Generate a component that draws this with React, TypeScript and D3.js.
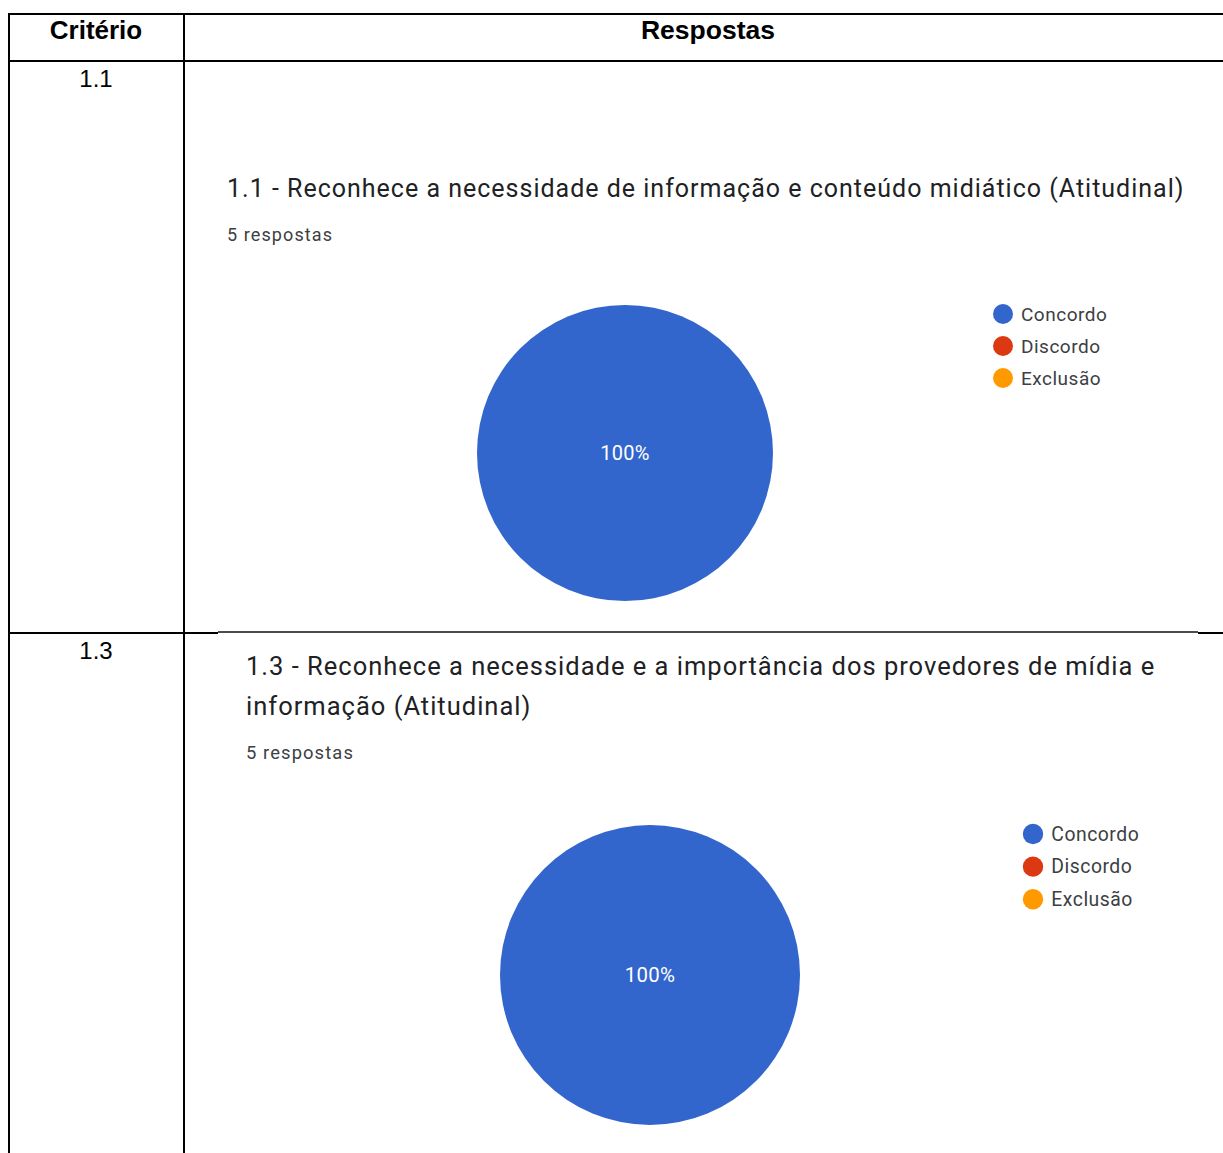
import { useEffect, useRef } from "react";
import * as d3 from "d3";

// legend categories + colors (Google Forms palette)
const categories = ["Concordo", "Discordo", "Exclusão"];
const colors = ["#3366cc", "#dc3912", "#ff9900"];

// answers per criterion (5 respostas each)
const values11 = [5, 0, 0];
const values13 = [5, 0, 0];

const header = ["Critério", "Respostas"];
const criteria = ["1.1", "1.3"];

const title11 = ["1.1 - Reconhece a necessidade de informação e conteúdo midiático (Atitudinal)"];
const title13 = [
    "1.3 - Reconhece a necessidade e a importância dos provedores de mídia e",
    "informação (Atitudinal)",
];
const respostas = "5 respostas";

type Block = {
    title: string[];
    values: number[];
    x: number; // text left
    titleY: number;
    lineGap: number;
    titleSize: number;
    subY: number;
    cx: number;
    cy: number;
    r: number;
    legendX: number;
    legendY: number;
    scale: number;
};

const W = 1223;
const H = 1153;

export default function App() {
    const ref = useRef<SVGSVGElement | null>(null);

    useEffect(() => {
        if (!ref.current) return;
        const svg = d3.select(ref.current);
        svg.selectAll("*").remove();

        svg.append("rect").attr("width", W).attr("height", H).attr("fill", "#fff");

        // table grid
        const g = svg.append("g").attr("stroke", "#000").attr("stroke-width", 2);
        g.append("line").attr("x1", 8).attr("x2", W).attr("y1", 14).attr("y2", 14);
        g.append("line").attr("x1", 8).attr("x2", W).attr("y1", 61).attr("y2", 61);
        g.append("line").attr("x1", 9).attr("x2", 9).attr("y1", 13).attr("y2", H);
        g.append("line").attr("x1", 184).attr("x2", 184).attr("y1", 13).attr("y2", H);
        g.append("line").attr("x1", 8).attr("x2", 218).attr("y1", 633).attr("y2", 633);
        g.append("line").attr("x1", 1198).attr("x2", W).attr("y1", 633).attr("y2", 633);
        g.append("line").attr("x1", 218).attr("x2", 1198).attr("y1", 632).attr("y2", 632).attr("stroke-width", 1.5).attr("stroke", "#111");

        const hdr = svg.append("g").attr("font-family", "Liberation Sans, Arial, sans-serif").attr("text-anchor", "middle");
        hdr.append("text").attr("x", 96).attr("y", 39).attr("font-size", 26).attr("font-weight", "bold").text(header[0]);
        hdr.append("text").attr("x", 708).attr("y", 39).attr("font-size", 26.5).attr("font-weight", "bold").text(header[1]);
        hdr.append("text").attr("x", 96).attr("y", 87).attr("font-size", 24).text(criteria[0]);
        hdr.append("text").attr("x", 96).attr("y", 659).attr("font-size", 24).text(criteria[1]);

        const blocks: Block[] = [
            { title: title11, values: values11, x: 227, titleY: 197, lineGap: 40, titleSize: 25, subY: 241, cx: 625, cy: 453, r: 148, legendX: 1003, legendY: 314, scale: 1 },
            { title: title13, values: values13, x: 246, titleY: 675, lineGap: 40, titleSize: 25.5, subY: 759, cx: 650, cy: 975, r: 150, legendX: 1033, legendY: 834, scale: 1.02 },
        ];

        const pie = d3.pie<number>().sort(null).value(d => d);
        const color = d3.scaleOrdinal<string, string>().domain(categories).range(colors);

        blocks.forEach(b => {
            const bg = svg.append("g").attr("font-family", "Roboto, sans-serif");
            b.title.forEach((t, i) => {
                bg.append("text")
                    .attr("x", b.x)
                    .attr("y", b.titleY + i * b.lineGap)
                    .attr("font-size", b.titleSize)
                    .attr("letter-spacing", 1)
                    .attr("fill", "#202124")
                    .text(t);
            });
            bg.append("text")
                .attr("x", b.x)
                .attr("y", b.subY)
                .attr("font-size", 18 * b.scale)
                .attr("fill", "#3c4043")
                .attr("letter-spacing", 1.1)
                .text(respostas);

            const arcs = pie(b.values);
            const arc = d3.arc<d3.PieArcDatum<number>>().innerRadius(0).outerRadius(b.r);
            const total = d3.sum(b.values);
            const pg = bg.append("g").attr("transform", `translate(${b.cx},${b.cy})`);
            pg.selectAll("path")
                .data(arcs.filter(a => a.data > 0))
                .enter()
                .append("path")
                .attr("d", arc)
                .attr("fill", (a) => color(categories[a.index]));
            pg.selectAll("text.lbl")
                .data(arcs.filter(a => a.data > 0))
                .enter()
                .append("text")
                .attr("class", "lbl")
                .attr("transform", a => (a.endAngle - a.startAngle >= 2 * Math.PI - 1e-6 ? "translate(0,0)" : `translate(${arc.centroid(a)})`))
                .attr("dy", "0.35em")
                .attr("text-anchor", "middle")
                .attr("font-size", 20 * b.scale)
                .attr("letter-spacing", 0.3)
                .attr("fill", "#fff")
                .text(a => `${Math.round((a.data / total) * 100)}%`);

            const lg = bg.append("g").attr("transform", `translate(${b.legendX},${b.legendY})`);
            const step = 32 * b.scale;
            lg.selectAll("circle")
                .data(categories)
                .enter()
                .append("circle")
                .attr("cx", 0)
                .attr("cy", (_, i) => i * step)
                .attr("r", 10 * b.scale)
                .attr("fill", d => color(d));
            lg.selectAll("text")
                .data(categories)
                .enter()
                .append("text")
                .attr("x", 18 * b.scale)
                .attr("y", (_, i) => i * step)
                .attr("dy", "0.35em")
                .attr("font-size", 19 * b.scale)
                .attr("letter-spacing", 0.5)
                .attr("fill", "#3c4043")
                .text(d => d);
        });
    }, []);

    return (
        <svg
            ref={ref}
            width={W}
            height={H}
            style={{ position: "absolute", left: 0, top: 0, display: "block" }}
        />
    );
}
